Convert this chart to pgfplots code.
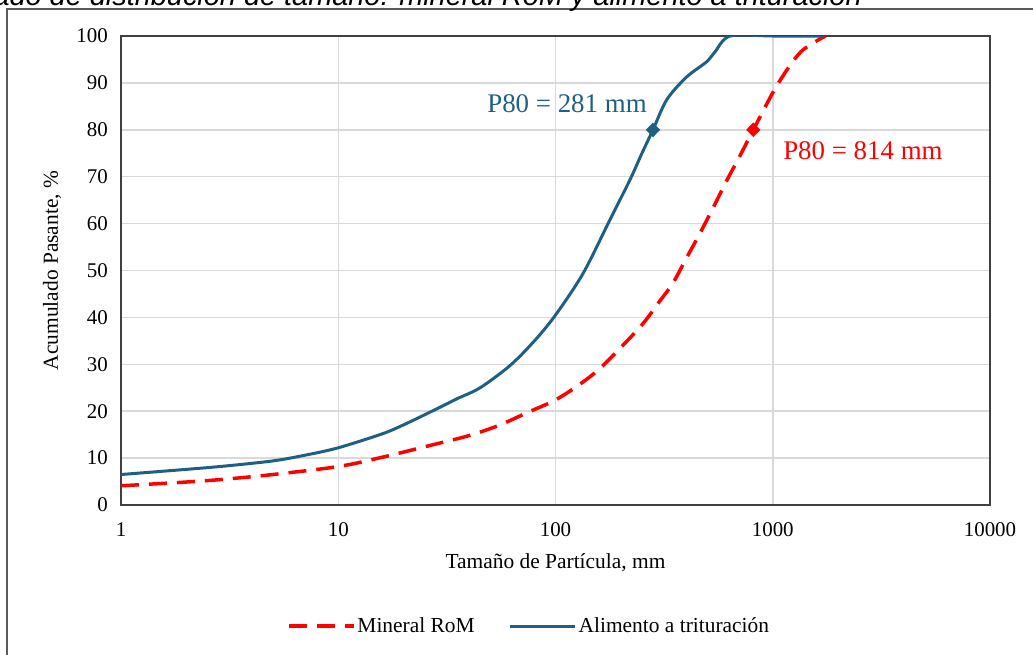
\documentclass[border=0pt]{standalone}
\usepackage{fontspec}
\setmainfont{Liberation Serif}
\newfontfamily\titlefont{Liberation Sans}
\usepackage{pgfplots}
\usepackage{pgfplotstable}
\pgfplotsset{compat=1.18}
\definecolor{bluec}{HTML}{1F6082}
\definecolor{axisgray}{HTML}{404040}
\definecolor{gridgray}{HTML}{D9D9D9}
\definecolor{framegray}{HTML}{5A5A5A}

\pgfplotstableread{
x y
1 4.1
2 4.9
3 5.5
5 6.5
10 8.2
16 10.2
27 12.8
40 14.8
55 17.0
75 19.8
100 22.4
130 25.8
160 29.1
200 33.6
253 38.7
300 43.3
347 47.3
400 52.6
462 57.9
540 64.0
616 69.3
700 74.1
814 80.0
1050 89.6
1345 96.6
1750 100
}\rom

\pgfplotstableread{
x y
1 6.5
2 7.6
3 8.3
5 9.4
7 10.6
10 12.2
16 15.2
20 17.1
27 20.0
35 22.6
45 25.0
62 29.8
80 35.0
100 40.5
134 49.4
178 60.8
220 69.3
250 75.0
281 80.0
325 86.4
400 91.2
496 94.5
540 96.5
636 100
1000 100
1700 100
}\ali

\begin{document}
\begin{tikzpicture}
\useasboundingbox (0,0) rectangle (1033bp,-655bp);
\clip (0,0) rectangle (1033bp,-655bp);
\draw[framegray, line width=1.5bp] (7bp,-9bp) rectangle (1060bp,-690bp);
\node[anchor=base east, inner sep=0pt, font=\titlefont\itshape\fontsize{29}{32}\selectfont] at (862bp,-5bp) {Resultado de distribución de tamaño: mineral RoM y alimento a trituración};
\begin{axis}[
  at={(121bp,-505bp)}, anchor=south west,
  scale only axis, width=869bp, height=469bp,
  xmode=log, log basis x=10,
  xmin=1, xmax=10000, ymin=0, ymax=100,
  xtick={1,10,100,1000,10000},
  xticklabels={1,10,100,1000,10000},
  ytick={0,10,...,100},
  minor xtick={}, 
  grid=major,
  major grid style={gridgray, line width=1.5bp},
  axis line style={axisgray, line width=2.2bp},
  tick style={draw=none},
  /pgf/number format/assume math mode=true,
  tick label style={font=\fontsize{21}{24}\selectfont},
  y tick label style={anchor=east, inner sep=0pt, xshift=-13bp},
  x tick label style={anchor=north, inner sep=0pt, yshift=-17bp},
  xlabel={Tamaño de Partícula, mm},
  ylabel={Acumulado Pasante, \%},
  xlabel style={at={(axis description cs:0.5,-0.1237)}, anchor=center, font=\fontsize{21.5}{24}\selectfont},
  ylabel style={at={(axis description cs:-0.0794,0.5)}, anchor=center, font=\fontsize{21.5}{24}\selectfont},
  legend style={at={(axis description cs:0.4695,-0.258)}, anchor=center, draw=none, fill=none,
    font=\fontsize{21.5}{24}\selectfont, legend columns=2,
    /tikz/every even column/.append style={column sep=32bp},
    nodes={inner sep=2bp}},
  legend image code/.code={\draw[#1] (0bp,0bp) -- (65bp,0bp);},
]
\addplot[red, line width=3.5bp, dash pattern=on 18bp off 10bp, smooth, tension=0.5] table {\rom};
\addlegendentry{Mineral RoM}
\addplot[bluec, line width=3bp, smooth, tension=0.5] table {\ali};
\addlegendentry{Alimento a trituración}
\addplot[only marks, mark=diamond*, mark size=7bp, mark options={xscale=1.3}, red, forget plot] coordinates {(814,80)};
\addplot[only marks, mark=diamond*, mark size=7bp, mark options={xscale=1.3}, bluec, forget plot] coordinates {(281,80)};
\node[text=bluec, font=\fontsize{27}{30}\selectfont] at (axis cs:113,85.5) {P80 = 281 mm};
\node[text=red, font=\fontsize{27}{30}\selectfont] at (axis cs:2602,75.5) {P80 = 814 mm};
\end{axis}
\end{tikzpicture}
\end{document}
